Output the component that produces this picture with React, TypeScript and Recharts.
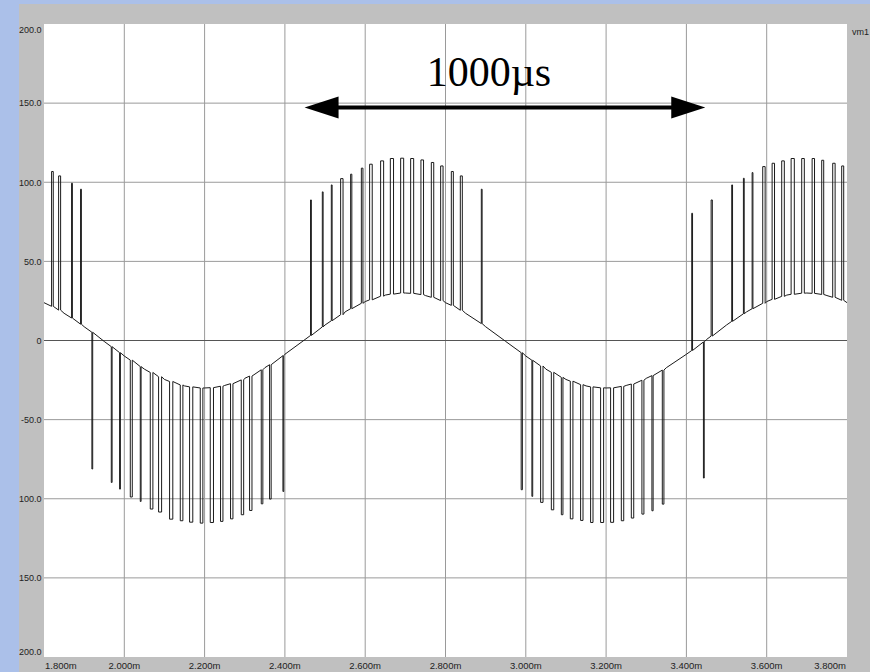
import React from "react";
import { LineChart, Line, XAxis, YAxis, CartesianGrid, ReferenceLine } from "recharts";

const xTicks = [1.8, 2.0, 2.2, 2.4, 2.6, 2.8, 3.0, 3.2, 3.4, 3.6, 3.8];
const yTicks = [200, 150, 100, 50, 0, -50, -100, -150, -200];
const xGrid = [2.0, 2.2, 2.4, 2.6, 2.8, 3.0, 3.2, 3.4, 3.6];
const yGrid = [150, 100, 50, -50, -100, -150];

// slow (fundamental) component, sampled every 0.05 ms
const baseTimes = [
  1.8, 1.85, 1.9, 1.95, 2.0, 2.05, 2.1, 2.15, 2.2, 2.25, 2.3, 2.35, 2.4, 2.45,
  2.5, 2.55, 2.6, 2.65, 2.7, 2.75, 2.8, 2.85, 2.9, 2.95, 3.0, 3.05, 3.1, 3.15,
  3.2, 3.25, 3.3, 3.35, 3.4, 3.45, 3.5, 3.55, 3.6, 3.65, 3.7, 3.75, 3.8,
];
const baseValues = [
  23.9, 17.2, 8.7, -0.6, -9.8, -18.1, -24.6, -28.7, -30.0, -28.4, -23.9, -17.2, -8.7, 0.6,
  9.8, 18.1, 24.6, 28.7, 30.0, 28.4, 23.9, 17.2, 8.7, -0.6, -9.8, -18.1, -24.6, -28.7,
  -30.0, -28.4, -23.9, -17.2, -8.7, 0.6, 9.8, 18.1, 24.6, 28.7, 30.0, 28.4, 23.9,
];

// PWM pulses: start time (ms), width (ms), peak level, foot level
const pulseTimes = [
  1.8189, 1.8364, 1.8687, 1.8911,
  1.9193, 1.9676, 1.9883, 2.0149, 2.0398, 2.0647, 2.0854, 2.1128, 2.1394, 2.1626, 2.1892, 2.2141, 2.2397, 2.2646, 2.2913, 2.312, 2.3411, 2.3618, 2.3951,
  2.4639, 2.4932, 2.5156, 2.5388, 2.5637, 2.5904, 2.611, 2.6384, 2.6626, 2.6883, 2.7132, 2.7388, 2.7647, 2.7879, 2.8145, 2.8369, 2.8892,
  2.9885, 3.0152, 3.0369, 3.0636, 3.0885, 3.1109, 3.1365, 3.1614, 3.1863, 3.2112, 3.2379, 3.2628, 3.2892, 3.3141, 3.34, 3.4424,
  3.4133, 3.4616, 3.5129, 3.542, 3.5637, 3.5901, 3.6135, 3.6374, 3.6608, 3.6872, 3.7131, 3.737, 3.7644, 3.7868,
];
const pulseWidths = [
  0.0042, 0.005, 0.002, 0.002,
  0.002, 0.002, 0.002, 0.005, 0.002, 0.0065, 0.0075, 0.008, 0.0065, 0.008, 0.0065, 0.008, 0.006, 0.006, 0.006, 0.006, 0.004, 0.004, 0.002,
  0.002, 0.002, 0.002, 0.006, 0.003, 0.004, 0.0065, 0.0075, 0.008, 0.0075, 0.0075, 0.0065, 0.006, 0.006, 0.005, 0.005, 0.002,
  0.003, 0.002, 0.006, 0.006, 0.004, 0.0065, 0.006, 0.006, 0.0075, 0.0075, 0.006, 0.006, 0.005, 0.003, 0.004, 0.002,
  0.002, 0.003, 0.002, 0.002, 0.002, 0.006, 0.006, 0.0065, 0.008, 0.0065, 0.006, 0.005, 0.006, 0.005,
];
const pulseLevels = [
  106.8, 104, 99.4, 95.6,
  -81.2, -89.7, -93.9, -98.9, -101.7, -106.5, -108.4, -112.9, -113.9, -114.8, -115.4, -115, -114.3, -112.7, -110.1, -107.4, -103.2, -100.2, -95.4,
  88.8, 93.9, 98.3, 102.3, 105.1, 108.9, 111.4, 113.5, 115, 115.2, 115, 114.1, 112.5, 110.3, 106.8, 104, 95.6,
  -94.3, -98.5, -102.3, -107, -110.1, -112.7, -113.7, -115, -115, -114.9, -113.9, -112.2, -109.7, -107.6, -103.4, -86.9,
  80.4, 88.8, 98.3, 102.5, 106.1, 109.9, 112, 113.5, 115, 115, 115, 113.9, 112, 110.3,
];
const pulseFeet = [
  21.6, 19.2, 14.2, 10.3,
  5.2, -3.9, -7.7, -12.4, -16.5, -20.2, -22.9, -25.9, -28.1, -29.3, -30.0, -29.8, -28.9, -27.3, -24.9, -22.5, -18.5, -15.3, -9.6,
  3.2, 8.6, 12.5, 16.3, 20.1, 23.5, 25.7, 28.0, 29.3, 30.0, 29.8, 29.0, 27.3, 25.2, 22.2, 19.1, 10.7,
  -7.7, -12.5, -16.1, -20.1, -23.3, -25.7, -27.9, -29.3, -29.9, -29.9, -29.0, -27.5, -25.1, -22.2, -18.7, -0.9,
  -6.3, 2.8, 12.1, 16.9, 20.1, 23.5, 26.0, 27.9, 29.2, 29.9, 29.8, 29.1, 27.3, 25.4,
];

type Pt = { t: number; v: number; k: number };

function buildData(): Pt[] {
  const pts: Pt[] = [];
  baseTimes.forEach((t, i) => {
    const inside = pulseTimes.some((p, j) => t > p - 1e-9 && t < p + pulseWidths[j] + 1e-9);
    if (!inside) pts.push({ t, v: baseValues[i], k: 0 });
  });
  pulseTimes.forEach((p, j) => {
    const w = pulseWidths[j];
    pts.push({ t: p, v: pulseFeet[j], k: 1 });
    pts.push({ t: p, v: pulseLevels[j], k: 2 });
    pts.push({ t: p + w, v: pulseLevels[j], k: 3 });
    pts.push({ t: p + w, v: pulseFeet[j], k: 4 });
  });
  pts.sort((a, b) => (a.t - b.t) || (a.k - b.k));
  return pts;
}

const data = buildData();

const XTick = (props: any) => {
  const { x, y, payload } = props;
  const v = payload.value as number;
  let anchor: "start" | "middle" | "end" = "middle";
  let dx = 0;
  if (Math.abs(v - 1.8) < 1e-6) { anchor = "start"; dx = 1; }
  if (Math.abs(v - 3.8) < 1e-6) { anchor = "end"; dx = -1; }
  return (
    <text x={x + dx} y={y + 12} textAnchor={anchor} fontSize={9.5} fill="#222"
      fontFamily="'Liberation Sans', Arial, sans-serif">
      {v.toFixed(3) + "m"}
    </text>
  );
};

// the reference shows the -100/-150/-200 labels without their minus sign (cut by the frame)
const yLabel = (v: number) => (v === 0 ? "0" : v <= -100 ? Math.abs(v).toFixed(1) : v.toFixed(1));

const YTick = (props: any) => {
  const { x, y, payload } = props;
  const v = payload.value as number;
  let by = y + 3.3;
  if (v === 200) by = y + 9.3;
  if (v === -200) by = y - 2;
  return (
    <text x={x - 2.5} y={by} textAnchor="end" fontSize={9} fill="#222"
      fontFamily="'Liberation Sans', Arial, sans-serif">
      {yLabel(v)}
    </text>
  );
};

const Arrow = (props: any) => {
  const { x1, y1, x2, y2 } = props;
  const hl = 34;
  const hh = 11;
  return (
    <g>
      <line x1={x1 + hl - 2} y1={y1} x2={x2 - hl + 2} y2={y2} stroke="#000" strokeWidth={4} />
      <polygon points={`${x1},${y1} ${x1 + hl},${y1 - hh} ${x1 + hl},${y1 + hh}`} fill="#000" />
      <polygon points={`${x2},${y2} ${x2 - hl},${y2 - hh} ${x2 - hl},${y2 + hh}`} fill="#000" />
      <text x={(x1 + x2) / 2 - 16} y={y1 - 21} textAnchor="middle" fontSize={42} fill="#000"
        fontFamily="'Liberation Serif', 'Times New Roman', serif">
        1000µs
      </text>
    </g>
  );
};

export default function App() {
  return (
    <div style={{ position: "relative", width: 870, height: 672, background: "#abc0e9", overflow: "hidden" }}>
      <style>{"body{margin:0;}"}</style>
      <div style={{ position: "absolute", left: 19, top: 4, width: 851, height: 668, background: "#c0c0c0", overflow: "hidden" }}>
        <LineChart width={851} height={668} data={data} margin={{ top: 20, right: 23, bottom: 0, left: 0 }}>
          <CartesianGrid fill="#ffffff" stroke="#9a9a9a" strokeDasharray=""
            verticalValues={xGrid} horizontalValues={yGrid} />
          <XAxis dataKey="t" type="number" domain={[1.8, 3.8]} ticks={xTicks} allowDataOverflow
            height={15} tickSize={0} tickMargin={0} axisLine={false} tickLine={false} tick={<XTick />} interval={0} />
          <YAxis type="number" domain={[-200, 200]} ticks={yTicks} allowDataOverflow
            width={25} tickSize={0} tickMargin={0} axisLine={false} tickLine={false} tick={<YTick />} interval={0} />
          <ReferenceLine y={0} stroke="#555" strokeWidth={1} />
          <Line dataKey="v" type="linear" dot={false} activeDot={false} stroke="#1a1a1a" strokeWidth={1}
            isAnimationActive={false} />
          <ReferenceLine segment={[{ x: 2.449, y: 147.3 }, { x: 3.447, y: 147.3 }]} shape={<Arrow />} ifOverflow="visible" />
        </LineChart>
        <div style={{ position: "absolute", left: 833, top: 23, fontSize: 9, color: "#222",
          fontFamily: "'Liberation Sans', Arial, sans-serif" }}>vm1</div>
      </div>
    </div>
  );
}
